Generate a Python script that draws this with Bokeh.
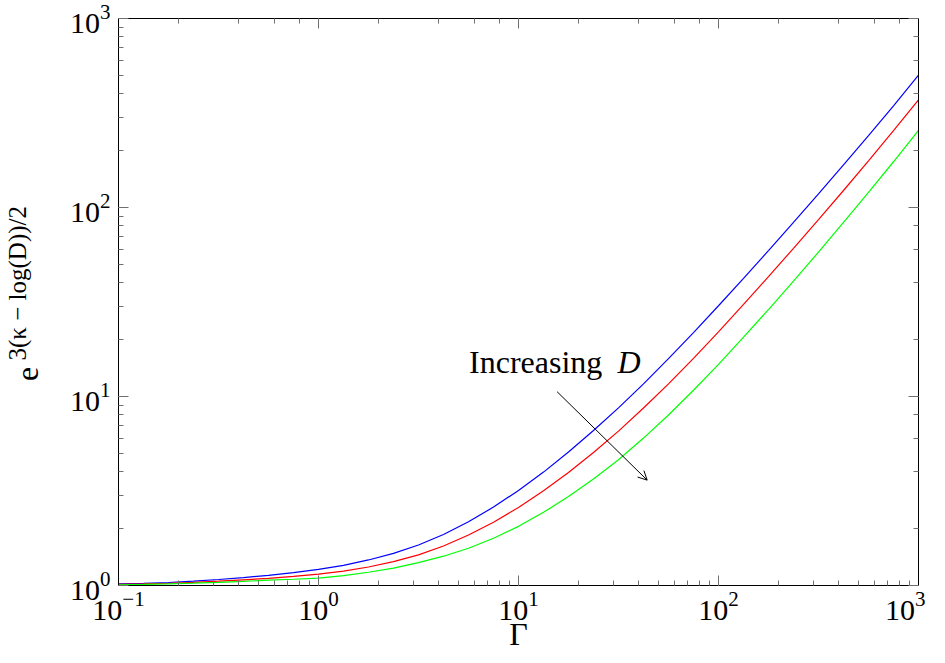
from bokeh.plotting import figure
from bokeh.models import (LogAxis, LogTicker, CustomJSTickFormatter, Label,
                          Arrow, OpenHead, Range1d)
from bokeh.embed import file_html
from bokeh.resources import INLINE

# ---- data ----
gamma = [0.1, 0.1334, 0.1778, 0.2371, 0.3162, 0.4217, 0.5623, 0.7499,
         1.0, 1.334, 1.778, 2.371, 3.162, 4.217, 5.623, 7.499,
         10.0, 13.34, 17.78, 23.71, 31.62, 42.17, 56.23, 74.99,
         100.0, 133.4, 177.8, 237.1, 316.2, 421.7, 562.3, 749.9, 1000.0]
curve_blue = [1.019, 1.026, 1.037, 1.054, 1.076, 1.102, 1.132, 1.169,
              1.216, 1.279, 1.365, 1.479, 1.637, 1.862, 2.173, 2.600,
              3.184, 3.981, 5.082, 6.607, 8.710, 11.67, 15.85, 21.78,
              30.20, 42.17, 59.16, 83.37, 118.0, 167.9, 239.9, 345.1, 501.2]
curve_red = [1.014, 1.019, 1.028, 1.040, 1.054, 1.072, 1.091, 1.117,
             1.148, 1.191, 1.253, 1.337, 1.452, 1.618, 1.849, 2.163,
             2.588, 3.170, 3.963, 5.058, 6.561, 8.690, 11.67, 15.92,
             21.98, 30.69, 43.05, 60.81, 86.30, 123.0, 176.6, 255.3, 371.5]
curve_green = [1.009, 1.014, 1.021, 1.030, 1.040, 1.052, 1.067, 1.079,
               1.094, 1.127, 1.175, 1.236, 1.321, 1.429, 1.574, 1.778,
               2.056, 2.438, 2.958, 3.664, 4.624, 6.026, 7.980, 10.79,
               14.79, 20.61, 28.84, 40.83, 58.08, 83.37, 120.2, 174.6, 255.9]

x_limits = (0.1, 1000.0)
y_limits = (1.0, 1000.0)

annotation_text = "Increasing "
annotation_var = "D"
x_label = "Γ"
y_label_base = "e"
y_label_sup = "3(κ − log(D))/2"

FONT = "Liberation Serif"
NBSP = "\u00a0"

p = figure(width=925, height=662, x_axis_type="log", y_axis_type="log",
           x_range=Range1d(*x_limits), y_range=Range1d(*y_limits),
           output_backend="svg", toolbar_location=None,
           min_border_left=116, min_border_right=7,
           min_border_top=18, min_border_bottom=77)
p.grid.visible = False
p.outline_line_color = "black"
p.background_fill_color = "white"
p.border_fill_color = "white"


def style(ax, labels=True):
    ax.axis_line_color = "black"
    ax.axis_line_width = 1
    ax.major_tick_in = 10
    ax.major_tick_out = 0
    ax.minor_tick_in = 5
    ax.minor_tick_out = 0
    ax.major_tick_line_color = "#707070"
    ax.minor_tick_line_color = "#707070"
    ax.major_label_text_font = FONT
    ax.major_label_text_color = "black"
    if labels:
        ax.major_label_text_font_size = "30px"
        ax.major_label_standoff = 6
    else:
        ax.major_label_text_font_size = "1px"
        ax.major_label_standoff = 0


def label_axis(text, size, standoff):
    ax = LogAxis(ticker=LogTicker(),
                 formatter=CustomJSTickFormatter(code="return ''"))
    ax.axis_line_color = None
    ax.major_tick_line_color = None
    ax.minor_tick_line_color = None
    ax.major_tick_in = 0
    ax.major_tick_out = 0
    ax.minor_tick_in = 0
    ax.minor_tick_out = 0
    ax.major_label_text_font_size = "1px"
    ax.major_label_standoff = 0
    ax.axis_label = text
    ax.axis_label_text_font = FONT
    ax.axis_label_text_font_style = "normal"
    ax.axis_label_text_font_size = size
    ax.axis_label_text_color = "black"
    ax.axis_label_standoff = standoff
    return ax


style(p.xaxis[0])
style(p.yaxis[0])
p.yaxis[0].major_label_standoff = 8
p.xaxis[0].axis_label = x_label
p.xaxis[0].axis_label_text_font = FONT
p.xaxis[0].axis_label_text_font_style = "normal"
p.xaxis[0].axis_label_text_font_size = "32px"
p.xaxis[0].axis_label_text_color = "black"
p.xaxis[0].axis_label_standoff = -7

top = LogAxis(ticker=LogTicker(), formatter=CustomJSTickFormatter(code="return ''"))
right = LogAxis(ticker=LogTicker(), formatter=CustomJSTickFormatter(code="return ''"))
style(top, labels=False)
style(right, labels=False)
p.add_layout(top, "above")
p.add_layout(right, "right")

# y axis label: base "e" and its raised exponent, each carried by a bare axis
p.add_layout(label_axis(y_label_base + NBSP * 18, "32px", 22), "left")
p.add_layout(label_axis(NBSP * 6 + y_label_sup, "25px", -25), "left")

p.line(gamma, curve_blue, line_color="#0000ff", line_width=1.2)
p.line(gamma, curve_red, line_color="#ff0000", line_width=1.2)
p.line(gamma, curve_green, line_color="#00ff00", line_width=1.2)

# annotation
p.add_layout(Label(x=5.66, y=15.2, text=annotation_text, text_font=FONT,
                   text_font_size="32px", text_align="left",
                   text_baseline="alphabetic", text_color="black"))
p.add_layout(Label(x=31.3, y=15.2, text=annotation_var, text_font=FONT,
                   text_font_style="italic", text_font_size="32px",
                   text_align="left", text_baseline="alphabetic",
                   text_color="black"))
p.add_layout(Arrow(x_start=15.6, y_start=10.6, x_end=44.0, y_end=3.61,
                   line_color="black", line_width=1,
                   end=OpenHead(size=9, line_color="black", line_width=1)))

open("out.html", "w").write(file_html(p, INLINE))
